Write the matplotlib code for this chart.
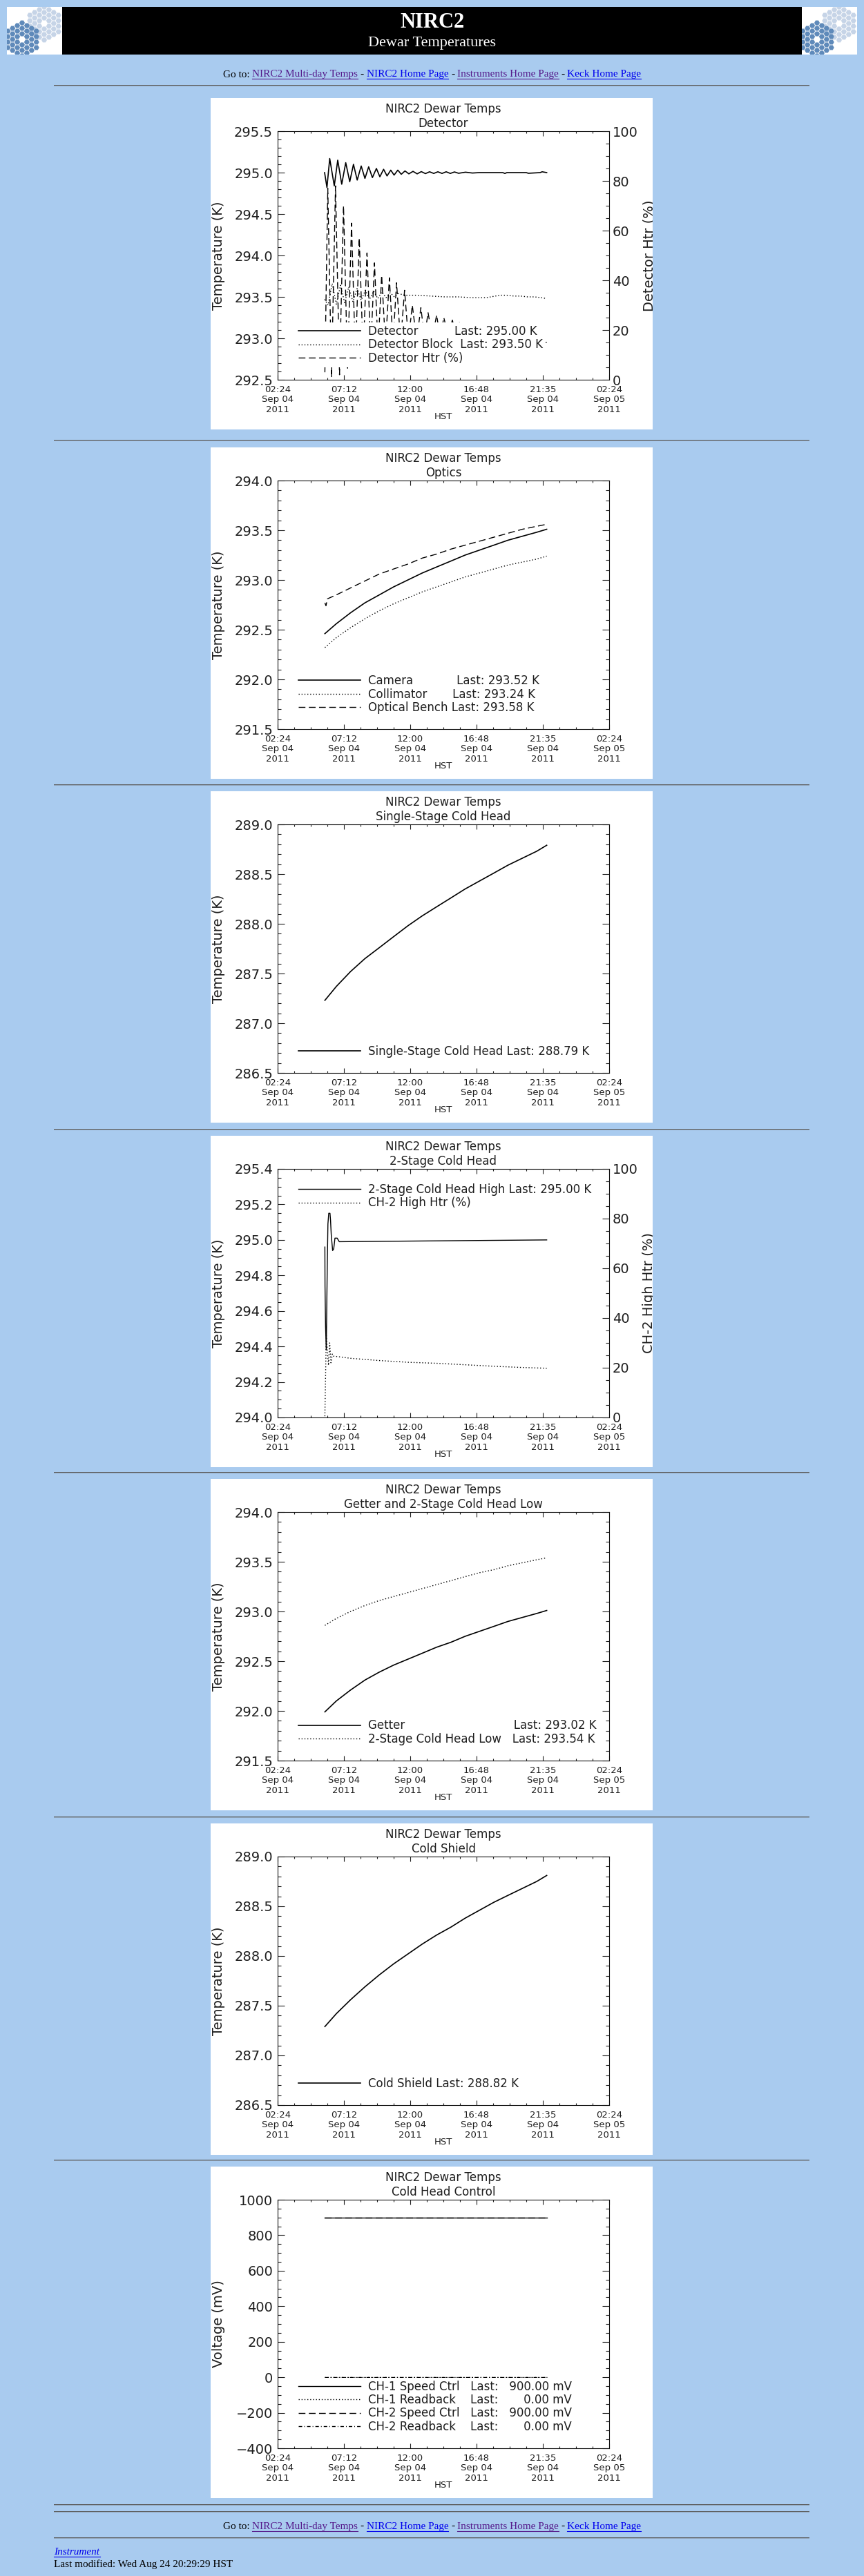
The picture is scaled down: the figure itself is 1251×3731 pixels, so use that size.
import matplotlib
matplotlib.use("Agg")
import matplotlib.pyplot as plt
import matplotlib.ticker as mticker
from matplotlib.patches import RegularPolygon, Rectangle
from matplotlib.lines import Line2D
import numpy as np

plt.rcParams['font.family'] = ['DejaVu Sans']

# ---------------- data ----------------
TICK_HOURS = [2.4, 7.2, 12.0, 16.8, 21.6, 26.4]
TICK_LABELS = ["02:24\nSep 04\n2011", "07:12\nSep 04\n2011", "12:00\nSep 04\n2011",
               "16:48\nSep 04\n2011", "21:35\nSep 04\n2011", "02:24\nSep 05\n2011"]

# sample times (hours after midnight, Sep 04 HST) for the smooth series
hours = [5.82, 6.65, 7.68, 8.72, 9.76, 10.79, 11.83, 12.87, 13.90, 14.94,
         15.97, 17.01, 18.05, 19.08, 20.12, 21.16, 21.88]

# Detector panel
det_hours = [5.80, 5.97, 6.17, 6.50, 6.75, 7.04, 7.33, 7.62, 7.89, 8.16, 8.45, 8.72,
             8.99, 9.26, 9.55, 9.80, 10.07, 10.32, 10.59, 10.83, 11.10, 11.35, 11.62,
             11.90, 12.20, 12.50, 12.80, 13.10, 13.40, 13.70, 14.00, 14.30, 14.60,
             14.90, 15.20, 15.50, 16.00, 16.50, 17.00, 18.70, 18.85, 19.00, 20.40,
             20.55, 21.40, 21.55, 21.88]
det_temp = [295.00, 294.82, 295.17, 294.84, 295.15, 294.86, 295.12, 294.89, 295.10,
            294.91, 295.08, 294.93, 295.07, 294.94, 295.05, 294.95, 295.04, 294.96,
            295.03, 294.97, 295.03, 294.98, 295.02, 294.985, 295.015, 294.985,
            295.012, 294.988, 295.01, 294.99, 295.01, 294.99, 295.01, 294.99,
            295.008, 294.992, 295.005, 294.995, 295.0, 295.0, 294.99, 295.0,
            295.0, 294.992, 295.0, 295.01, 295.0]
block_hours = [5.80, 6.05, 6.35, 6.65, 6.95, 7.25, 7.55, 7.85, 8.15, 8.45, 8.75, 9.05,
               9.35, 9.65, 9.95, 10.25, 10.55, 10.85, 11.15, 11.60, 12.50, 13.50,
               14.50, 15.50, 16.50, 17.50, 18.50, 19.00, 19.50, 20.00, 20.50, 21.00,
               21.50, 21.88]
block_temp = [293.47, 293.40, 293.66, 293.41, 293.64, 293.43, 293.62, 293.44, 293.60,
              293.46, 293.58, 293.47, 293.57, 293.48, 293.56, 293.49, 293.55, 293.50,
              293.54, 293.52, 293.52, 293.51, 293.50, 293.50, 293.49, 293.49, 293.52,
              293.52, 293.51, 293.51, 293.50, 293.50, 293.49, 293.48]
htr_hours = [5.82, 6.03, 6.30, 6.59, 6.88, 7.17, 7.46, 7.75, 8.03, 8.31, 8.59, 8.87,
             9.14, 9.41, 9.67, 9.93, 10.21, 10.49, 10.75, 11.01, 11.30, 11.59, 11.87,
             12.15, 12.46, 12.77, 13.03, 13.29, 13.60, 13.91, 14.17, 14.43, 14.74,
             15.05, 15.30, 15.56, 15.80, 21.88]
htr_pct = [3, 77, 1, 78, 2, 70, 4, 63, 8, 57, 10, 51, 12, 47, 13, 42, 14, 41, 15, 39,
           15, 36, 16, 30, 16, 29, 17, 27, 17, 26, 17, 25, 18, 24, 18, 23, 15, 15]

# Optics panel
camera = [292.46, 292.56, 292.67, 292.77, 292.85, 292.93, 293.00, 293.07, 293.13,
          293.19, 293.25, 293.30, 293.35, 293.40, 293.44, 293.48, 293.51]
collimator = [292.32, 292.42, 292.52, 292.61, 292.69, 292.76, 292.82, 292.88, 292.93,
              292.98, 293.03, 293.07, 293.11, 293.15, 293.18, 293.21, 293.24]
bench_hours = [5.82, 5.90, 6.00, 6.65, 7.68, 8.72, 9.76, 10.79, 11.83, 12.87, 13.90,
               14.94, 15.97, 17.01, 18.05, 19.08, 20.12, 21.16, 21.88]
bench = [292.77, 292.74, 292.81, 292.85, 292.92, 292.99, 293.06, 293.11, 293.16,
         293.22, 293.26, 293.31, 293.35, 293.39, 293.43, 293.47, 293.51, 293.54, 293.56]

# Single-stage cold head
single_stage = [287.23, 287.37, 287.52, 287.65, 287.76, 287.87, 287.98, 288.08, 288.17,
                288.26, 288.35, 288.43, 288.51, 288.59, 288.66, 288.73, 288.79]

# 2-stage cold head high
ch2_hours = [5.82, 5.83, 5.87, 5.92, 5.99, 6.04, 6.10, 6.19, 6.23, 6.28, 6.38, 6.46,
             6.55, 6.71, 6.86, 21.88]
ch2_temp = [294.96, 294.74, 294.51, 294.38, 294.84, 295.09, 295.15, 295.15, 295.11,
            295.03, 294.94, 294.95, 295.01, 295.01, 294.99, 295.00]
ch2h_hours = [5.82, 5.88, 5.92, 6.00, 6.08, 6.17, 6.26, 6.36, 6.44, 7.68, 9.76, 11.83,
              13.90, 15.97, 18.05, 20.12, 21.88]
ch2h_pct = [0.5, 20, 33, 27, 21, 30, 22, 25.5, 24.7, 23.8, 22.9, 22.2, 21.8, 21.2,
            20.6, 20.1, 19.8]

# Getter and 2-stage low
getter = [291.99, 292.10, 292.21, 292.31, 292.39, 292.46, 292.52, 292.58, 292.64,
          292.69, 292.75, 292.80, 292.85, 292.90, 292.94, 292.98, 293.01]
ch2_low = [292.86, 292.93, 293.00, 293.06, 293.11, 293.15, 293.19, 293.23, 293.27,
           293.31, 293.35, 293.39, 293.42, 293.46, 293.49, 293.52, 293.54]

# Cold shield
cold_shield = [287.29, 287.42, 287.56, 287.69, 287.81, 287.92, 288.02, 288.12, 288.21,
               288.29, 288.38, 288.46, 288.54, 288.61, 288.68, 288.75, 288.81]

# Cold head control (mV)
ctrl_hours = [5.82, 21.88]
ch1_speed = [900, 900]
ch1_readback = [0, 0]
ch2_speed = [900, 900]
ch2_readback = [0, 0]

# ---------------- page ----------------
W, H, DPI = 1251, 3731, 100
BG = "#a9cbef"
TXT = "#1e1e1e"
LINK = "#0000ee"
VISITED = "#551a8b"

fig = plt.figure(figsize=(W / DPI, H / DPI), dpi=DPI, facecolor=BG)


def frac_rect(x, y, w, h):
    # pixel box measured from the top-left corner -> figure fractions
    return [x / W, 1 - (y + h) / H, w / W, h / H]


def hr(y):
    fig.add_artist(Rectangle((78 / W, 1 - (y + 1) / H), 1094 / W, 1 / H,
                             transform=fig.transFigure, color="#5c5c5c", lw=0))
    fig.add_artist(Rectangle((78 / W, 1 - (y + 2) / H), 1094 / W, 1 / H,
                             transform=fig.transFigure, color="#8fa3b8", lw=0))


def draw_logo(x_px):
    lax = fig.add_axes(frac_rect(x_px, 10, 80, 69))
    lax.set_xlim(0, 80)
    lax.set_ylim(69, 0)
    lax.set_facecolor("white")
    lax.set_xticks([])
    lax.set_yticks([])
    for sp in lax.spines.values():
        sp.set_visible(False)
    s = 4.6
    for (cx, cy), col in [((54, 24), "#c6d4e7"), ((22, 47), "#5f8aba")]:
        for q in range(-3, 4):
            for r in range(-3, 4):
                if max(abs(q), abs(r), abs(q + r)) > 3 or (q == 0 and r == 0):
                    continue
                hx = cx + s * 1.5 * q
                hy = cy + s * np.sqrt(3) * (r + q / 2)
                lax.add_patch(RegularPolygon((hx, hy), 6, radius=s * 0.88,
                                             orientation=np.pi / 6, color=col, lw=0))


def link_line(y_base):
    # "Go to:" navigation row, pieces laid out one after the other and centred
    pieces = [("Go to:", "black", False), ("NIRC2 Multi-day Temps", VISITED, True),
              ("-", "black", False), ("NIRC2 Home Page", LINK, True),
              ("-", "black", False), ("Instruments Home Page", VISITED, True),
              ("-", "black", False), ("Keck Home Page", LINK, True)]
    renderer = fig.canvas.get_renderer()
    fs = 11
    space = 0.25 * fs * DPI / 72
    texts = []
    for s, c, u in pieces:
        t = fig.text(0, 1 - y_base / H, s, color=c, fontsize=fs,
                     family="Liberation Serif", ha="left", va="baseline")
        texts.append(t)
    widths = [t.get_window_extent(renderer).width for t in texts]
    total = sum(widths) + space * (len(pieces) - 1)
    x = 625.5 - total / 2
    for t, w, (s, c, u) in zip(texts, widths, pieces):
        t.set_x(x / W)
        if u:
            fig.add_artist(Line2D([x / W, (x + w) / W], [1 - (y_base + 2.5) / H] * 2,
                                  transform=fig.transFigure, color=c, lw=0.8))
        x += w + space


# header banner
fig.add_axes(frac_rect(90, 10, 1071, 69), facecolor="black").set_axis_off()
fig.patches.append(Rectangle((90 / W, 1 - 79 / H), 1071 / W, 69 / H,
                             transform=fig.transFigure, color="black", lw=0))
draw_logo(10)
draw_logo(1161)
fig.text(625.5 / W, 1 - 33 / H, "NIRC2", color="white", fontsize=22, fontweight="bold",
         family="Liberation Serif", ha="center", va="center")
fig.text(625.5 / W, 1 - 63 / H, "Dewar Temperatures", color="white", fontsize=16,
         family="Liberation Serif", ha="center", va="center")
link_line(111.5)
hr(123)

# ---------------- plot panels ----------------
PANEL_X, PANEL_W, PANEL_H = 305, 640, 480
AX_L, AX_T, AX_W, AX_H = 97, 48, 480, 360
LW = 1.0
DOT_LW = 1.0
DOT = (0, (1.0, 2.0))
DASH = (0, (7, 3.6))
DASHDOT = (0, (3.6, 2.2, 0.7, 2.2))


def make_panel(top, subtitle, ylim, ystep, yminor, fmt, ylabel, twin=False):
    bg = fig.add_axes(frac_rect(PANEL_X, top, PANEL_W, PANEL_H))
    bg.set_facecolor("white")
    bg.set_xticks([])
    bg.set_yticks([])
    for sp in bg.spines.values():
        sp.set_visible(False)

    ax = fig.add_axes(frac_rect(PANEL_X + AX_L, top + AX_T, AX_W, AX_H))
    ax.set_facecolor("white")
    for sp in ax.spines.values():
        sp.set_linewidth(0.8)
        sp.set_color("#111111")
    ax.set_xlim(2.4, 26.4)
    ax.set_xticks(TICK_HOURS)
    ax.set_xticklabels(TICK_LABELS)
    ax.xaxis.set_minor_locator(mticker.MultipleLocator(1.2))
    ax.tick_params(axis="x", which="both", direction="in", top=True, bottom=True,
                   labelsize=9.5, pad=5.5, colors=TXT, width=0.8)
    ax.tick_params(axis="x", which="major", length=5)
    ax.tick_params(axis="x", which="minor", length=2.5)
    for lab in ax.get_xticklabels():
        lab.set_linespacing(1.15)
    ax.set_ylim(*ylim)
    ax.yaxis.set_major_locator(mticker.MultipleLocator(ystep))
    ax.yaxis.set_minor_locator(mticker.MultipleLocator(yminor))
    if fmt:
        ax.yaxis.set_major_formatter(mticker.FormatStrFormatter(fmt))
    ax.tick_params(axis="y", which="both", direction="in", left=True, right=not twin,
                   labelsize=14, pad=5, colors=TXT, width=0.8)
    ax.tick_params(axis="y", which="major", length=7.2)
    ax.tick_params(axis="y", which="minor", length=3.6)
    ax.set_title("NIRC2 Dewar Temps\n" + subtitle, fontsize=12, color=TXT,
                 pad=4.3, linespacing=1.2)
    ax.set_xlabel("HST", fontsize=9.5, color=TXT)
    ax.xaxis.set_label_coords(0.5, -0.13)
    ax.set_ylabel(ylabel, fontsize=14, color=TXT)
    ax.yaxis.set_label_coords(-0.158, 0.5)
    return bg, ax


def make_twin(ax, bg, label):
    ax2 = ax.twinx()
    ax2.set_ylim(0, 100)
    ax2.yaxis.set_major_locator(mticker.MultipleLocator(20))
    ax2.yaxis.set_minor_locator(mticker.MultipleLocator(5))
    ax2.tick_params(axis="y", which="both", direction="in", labelsize=14, pad=3.6,
                    colors=TXT, width=0.8)
    ax2.tick_params(axis="y", which="major", length=7.2)
    ax2.tick_params(axis="y", which="minor", length=3.6)
    ax2.set_ylabel(label, fontsize=14, color=TXT)
    ax2.yaxis.set_label_coords(1.1, 0.5)
    ax2.yaxis.label.set_clip_box(bg.bbox)
    ax2.yaxis.label.set_clip_on(True)
    for sp in ax2.spines.values():
        sp.set_visible(False)
    return ax2


def add_legend(ax, handles, labels, where="lower"):
    if where == "lower":
        loc, y = "lower left", 0.05
    else:
        loc, y = "upper left", 0.953
    leg = ax.legend(handles, labels, loc=loc, bbox_to_anchor=(0.054, y),
                    borderaxespad=0, borderpad=0.25, handlelength=5.4,
                    handletextpad=0.66, labelspacing=0.08, fontsize=12,
                    frameon=True, fancybox=False, framealpha=1,
                    facecolor="white", edgecolor="none")
    for t in leg.get_texts():
        t.set_color(TXT)
    return leg


# 1 - Detector
bg, ax = make_panel(142, "Detector", (292.5, 295.5), 0.5, 0.1, "%.1f", "Temperature (K)", twin=True)
ax2 = make_twin(ax, bg, "Detector Htr (%)")
l1, = ax.plot(det_hours, det_temp, color="black", lw=1.2)
l2, = ax.plot(block_hours, block_temp, color="black", lw=DOT_LW, linestyle=DOT)
l3, = ax2.plot(htr_hours, htr_pct, color="black", lw=LW, linestyle=DASH)
add_legend(ax2, [l1, l2, l3], ["Detector" + " " * 10 + "Last: 295.00 K",
                               "Detector Block  Last: 293.50 K",
                               "Detector Htr (%)"])
hr(637)

# 2 - Optics
bg, ax = make_panel(648, "Optics", (291.5, 294.0), 0.5, 0.1, "%.1f", "Temperature (K)")
l1, = ax.plot(hours, camera, color="black", lw=1.2)
l2, = ax.plot(hours, collimator, color="black", lw=DOT_LW, linestyle=DOT)
l3, = ax.plot(bench_hours, bench, color="black", lw=LW, linestyle=DASH)
add_legend(ax, [l1, l2, l3], ["Camera" + " " * 12 + "Last: 293.52 K",
                              "Collimator" + " " * 7 + "Last: 293.24 K",
                              "Optical Bench Last: 293.58 K"])
hr(1136)

# 3 - Single-Stage Cold Head
bg, ax = make_panel(1146, "Single-Stage Cold Head", (286.5, 289.0), 0.5, 0.1, "%.1f",
                    "Temperature (K)")
l1, = ax.plot(hours, single_stage, color="black", lw=1.2)
add_legend(ax, [l1], ["Single-Stage Cold Head Last: 288.79 K"])
hr(1635)

# 4 - 2-Stage Cold Head
bg, ax = make_panel(1645, "2-Stage Cold Head", (294.0, 295.4), 0.2, 0.05, "%.1f",
                    "Temperature (K)", twin=True)
ax2 = make_twin(ax, bg, "CH-2 High Htr (%)")
l1, = ax.plot(ch2_hours, ch2_temp, color="black", lw=1.0)
l2, = ax2.plot(ch2h_hours, ch2h_pct, color="black", lw=DOT_LW, linestyle=DOT)
add_legend(ax2, [l1, l2], ["2-Stage Cold Head High Last: 295.00 K", "CH-2 High Htr (%)"],
           where="upper")
hr(2132)

# 5 - Getter and 2-Stage Cold Head Low
bg, ax = make_panel(2142, "Getter and 2-Stage Cold Head Low", (291.5, 294.0), 0.5, 0.1,
                    "%.1f", "Temperature (K)")
l1, = ax.plot(hours, getter, color="black", lw=1.2)
l2, = ax.plot(hours, ch2_low, color="black", lw=DOT_LW, linestyle=DOT)
add_legend(ax, [l1, l2], ["Getter" + " " * 30 + "Last: 293.02 K",
                          "2-Stage Cold Head Low   Last: 293.54 K"])
hr(2631)

# 6 - Cold Shield
bg, ax = make_panel(2641, "Cold Shield", (286.5, 289.0), 0.5, 0.1, "%.1f", "Temperature (K)")
l1, = ax.plot(hours, cold_shield, color="black", lw=1.2)
add_legend(ax, [l1], ["Cold Shield Last: 288.82 K"])
hr(3128)

# 7 - Cold Head Control
bg, ax = make_panel(3138, "Cold Head Control", (-400, 1000), 200, 50, None, "Voltage (mV)")
l1, = ax.plot(ctrl_hours, ch1_speed, color="black", lw=LW)
l2, = ax.plot(ctrl_hours, ch1_readback, color="black", lw=DOT_LW, linestyle=DOT)
l3, = ax.plot(ctrl_hours, ch2_speed, color="black", lw=LW, linestyle=DASH)
l4, = ax.plot(ctrl_hours, ch2_readback, color="black", lw=LW, linestyle=DASHDOT)
add_legend(ax, [l1, l2, l3, l4], ["CH-1 Speed Ctrl   Last:   900.00 mV",
                                  "CH-1 Readback    Last:       0.00 mV",
                                  "CH-2 Speed Ctrl   Last:   900.00 mV",
                                  "CH-2 Readback    Last:       0.00 mV"])

# ---------------- footer ----------------
hr(3627)
hr(3637)
link_line(3663)
hr(3675)
fig.text(78 / W, 1 - 3700 / H, "Instrument", color=LINK, fontsize=11, style="italic",
         family="Liberation Serif", ha="left", va="baseline")
fig.add_artist(Line2D([78 / W, 145 / W], [1 - 3702.5 / H] * 2, transform=fig.transFigure,
                      color=LINK, lw=0.8))
fig.text(78 / W, 1 - 3718 / H, "Last modified: Wed Aug 24 20:29:29 HST", color="black",
         fontsize=11, family="Liberation Serif", ha="left", va="baseline")

fig.savefig("out.png", dpi=DPI, facecolor=BG)
